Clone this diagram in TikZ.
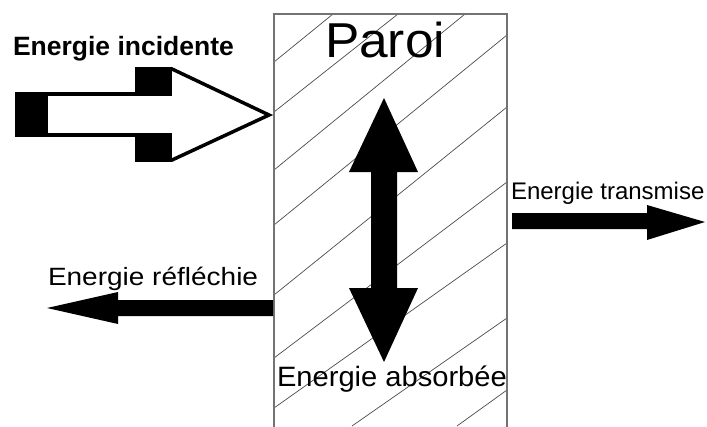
\documentclass[tikz,border=0pt]{standalone}
\usepackage{fontspec}
\setmainfont{Liberation Sans}
\begin{document}
\begin{tikzpicture}[x=1pt,y=-1pt,
  hatch/.style={draw=black!70,line width=0.7pt},
  wall/.style={draw=black!55,line width=1.4pt},
  lbl/.style={anchor=base west,inner sep=0pt,outer sep=0pt,text=black},
  blk/.style={fill=black,draw=none}]
\useasboundingbox (0,0) rectangle (707,426);
% wall
\fill[white] (274,14) rectangle (507,430);
\draw[hatch] (274,62)--(333,14);
\draw[hatch] (274,112)--(398,14);
\draw[hatch] (274,170)--(465,14);
\draw[hatch] (274,225)--(507,35);
\draw[hatch] (274,295)--(507,107);
\draw[hatch] (274,358)--(507,182);
\draw[hatch] (274,408)--(507,243);
\draw[hatch] (352,426)--(507,318);
\draw[hatch] (457,426)--(507,390);
\draw[wall] (274,430)--(274,14)--(507,14)--(507,430);
% incident arrow
\fill[blk] (15,92) rectangle (48,137);
\fill[blk] (48,92) rectangle (136,96);
\fill[blk] (48,133) rectangle (136,137);
\fill[blk] (135,67) rectangle (172,96);
\fill[blk] (135,133) rectangle (172,162);
\draw[line width=3.5pt,miter limit=20] (171,68.5)--(269,115)--(171,160.5);
% absorbed double arrow
\fill[blk] (384,98)--(418,172)--(397,172)--(397,288)--(418,288)--(384,362)--(349,288)--(371,288)--(371,172)--(349,172)--cycle;
% transmitted arrow
\fill[blk] (512,213)--(647,213)--(647,205)--(705,222)--(647,240)--(647,229)--(512,229)--cycle;
% reflected arrow
\fill[blk] (273,300)--(118,300)--(118,292)--(47,308)--(118,324)--(118,316)--(273,316)--cycle;
% labels
\node[lbl] (inc) at (13,55) {\fontsize{26.5}{30}\selectfont\bfseries Energie incidente};
\node[lbl] (paroi) at (325,57) {\scalebox{1.05}[1]{\fontsize{49}{55}\selectfont Paroi}};
\node[lbl] (abs) at (277,386) {\scalebox{1.04}[1]{\fontsize{28}{32}\selectfont Energie absorbée}};
\node[lbl] (tra) at (511,199) {\fontsize{24}{28}\selectfont Energie transmise};
\node[lbl] (ref) at (48,285) {\scalebox{1.12}[1]{\fontsize{25}{29}\selectfont Energie réfléchie}};
\end{tikzpicture}
\end{document}
